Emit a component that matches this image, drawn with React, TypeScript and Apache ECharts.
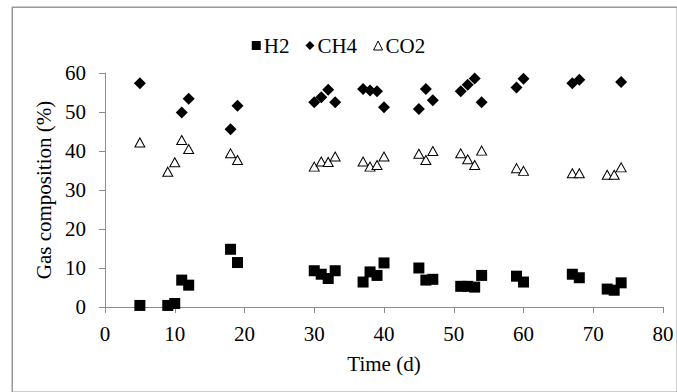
import React, { useEffect, useRef } from "react";
import * as echarts from "echarts";

const h2Days = [5, 9, 10, 11, 12, 18, 19, 30, 31, 32, 33, 37, 38, 39, 40, 45, 46, 47, 51, 52, 53, 54, 59, 60, 67, 68, 72, 73, 74];
const h2Values = [0.4, 0.4, 0.9, 6.9, 5.6, 14.8, 11.4, 9.3, 8.4, 7.3, 9.3, 6.4, 9.0, 8.1, 11.3, 10.0, 6.9, 7.1, 5.3, 5.3, 5.1, 8.1, 7.9, 6.4, 8.4, 7.5, 4.6, 4.3, 6.2];

const ch4Days = [5, 11, 12, 18, 19, 30, 31, 32, 33, 37, 38, 39, 40, 45, 46, 47, 51, 52, 53, 54, 59, 60, 67, 68, 74];
const ch4Values = [57.4, 49.9, 53.4, 45.6, 51.6, 52.5, 53.8, 55.7, 52.5, 55.9, 55.5, 55.3, 51.2, 50.8, 55.9, 53.0, 55.3, 57.0, 58.6, 52.5, 56.3, 58.5, 57.4, 58.3, 57.7];

const co2Days = [5, 9, 10, 11, 12, 18, 19, 30, 31, 32, 33, 37, 38, 39, 40, 45, 46, 47, 51, 52, 53, 54, 59, 60, 67, 68, 72, 73, 74];
const co2Values = [42.2, 34.7, 37.1, 42.8, 40.5, 39.4, 37.7, 36.0, 37.3, 37.2, 38.6, 37.3, 36.0, 36.4, 38.6, 39.3, 37.7, 40.0, 39.4, 37.9, 36.4, 40.1, 35.6, 34.9, 34.3, 34.3, 33.9, 33.9, 35.8];

const seriesNames = ["H2", "CH4", "CO2"];
const xTitle = "Time (d)";
const yTitle = "Gas composition (%)";

const FONT = "'Liberation Serif', 'Times New Roman', serif";
const AXIS_COLOR = "#8c8c8c";

function pairs(xs: number[], ys: number[]) {
  return xs.map((x, i) => [x, ys[i]]);
}

export default function App() {
  const ref = useRef<HTMLDivElement>(null);
  useEffect(() => {
    if (!ref.current) return;
    const chart = echarts.init(ref.current, null, { renderer: "svg" });
    const axisCommon = {
      axisLine: { show: true, lineStyle: { color: AXIS_COLOR, width: 1 } },
      axisTick: { show: true, inside: false, length: 6, lineStyle: { color: AXIS_COLOR } },
      splitLine: { show: false },
      nameTextStyle: { fontFamily: FONT, fontSize: 21, color: "#000" },
    };
    chart.setOption({
      animation: false,
      backgroundColor: "#fff",
      textStyle: { fontFamily: FONT },
      graphic: [
        {
          type: "rect",
          x: 12,
          y: 7,
          z: 100,
          shape: { x: 0, y: 0, width: 680, height: 400 },
          style: { fill: "none", stroke: "#999999", lineWidth: 1 },
          silent: true,
        },
      ],
      legend: {
        top: 30,
        left: "center",
        itemWidth: 9,
        itemHeight: 9,
        itemGap: 16,
        textStyle: { fontFamily: FONT, fontSize: 21, color: "#000", padding: [0, 0, 0, -2] },
        data: [
          { name: seriesNames[0], icon: "rect" },
          { name: seriesNames[1], icon: "diamond" },
          { name: seriesNames[2], icon: "triangle", itemStyle: { color: "#fff", borderColor: "#000", borderWidth: 1, opacity: 1 } },
        ],
      },
      grid: [
        { left: 105, right: 14, top: 73, bottom: 85, containLabel: false },
        {
          left: 12.5,
          top: 7.5,
          width: 700,
          height: 420,
          show: true,
          backgroundColor: "transparent",
          borderColor: "#999999",
          borderWidth: 1,
          z: 0,
        },
      ],
      xAxis: [
        {
          type: "value",
          gridIndex: 0,
          min: 0,
          max: 80,
          interval: 10,
          name: xTitle,
          nameLocation: "middle",
          nameGap: 46,
          ...axisCommon,
          axisLabel: { fontFamily: FONT, fontSize: 21, color: "#000", margin: 16 },
        },
        { type: "value", gridIndex: 1, show: false },
      ],
      yAxis: [
        {
          type: "value",
          gridIndex: 0,
          min: 0,
          max: 60,
          interval: 10,
          name: yTitle,
          nameLocation: "middle",
          nameGap: 47,
          ...axisCommon,
          axisLabel: { fontFamily: FONT, fontSize: 21, color: "#000", margin: 19 },
        },
        { type: "value", gridIndex: 1, show: false },
      ],
      series: [
        {
          name: seriesNames[0],
          type: "scatter",
          symbol: "rect",
          symbolSize: 11,
          itemStyle: { color: "#000", opacity: 1 },
          data: pairs(h2Days, h2Values),
        },
        {
          name: seriesNames[1],
          type: "scatter",
          symbol: "diamond",
          symbolSize: 12,
          itemStyle: { color: "#000", opacity: 1 },
          data: pairs(ch4Days, ch4Values),
        },
        {
          name: seriesNames[2],
          type: "scatter",
          symbol: "triangle",
          symbolSize: [10, 9],
          itemStyle: { color: "#fff", borderColor: "#000", borderWidth: 1, opacity: 1 },
          data: pairs(co2Days, co2Values),
        },
      ],
    });
    return () => chart.dispose();
  }, []);
  return (
    <div
      ref={ref}
      style={{ position: "fixed", left: 0, top: 0, width: 677, height: 392, background: "#fff" }}
    />
  );
}
